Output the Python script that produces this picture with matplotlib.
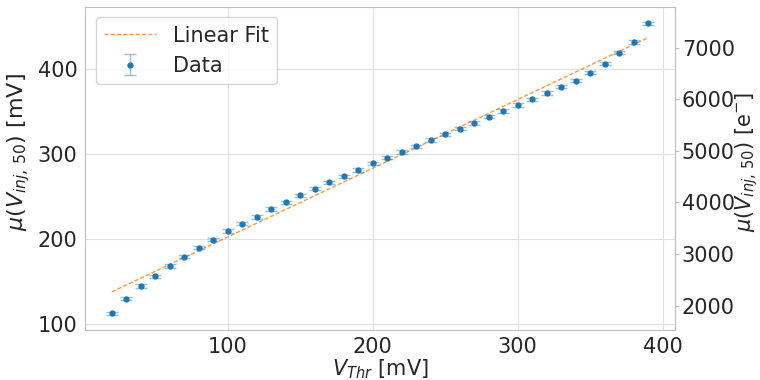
import numpy as np
import matplotlib.pyplot as plt
import seaborn as sns

sns.set_style("whitegrid")
plt.rcParams['font.family'] = ['DejaVu Sans']
plt.rcParams['font.size'] = 15
plt.rcParams['axes.labelsize'] = 15
plt.rcParams['xtick.labelsize'] = 15
plt.rcParams['ytick.labelsize'] = 15
plt.rcParams['legend.fontsize'] = 15
plt.rcParams['grid.color'] = '0.88'
plt.rcParams['grid.linewidth'] = 0.8
plt.rcParams['axes.edgecolor'] = '0.75'

# threshold voltage [mV] and mean injection voltage at 50% [mV]
v_thr = [20, 30, 40, 50, 60, 70, 80, 90, 100, 110, 120, 130, 140, 150, 160, 170,
         180, 190, 200, 210, 220, 230, 240, 250, 260, 270, 280, 290, 300, 310,
         320, 330, 340, 350, 360, 370, 380, 390]
mu_inj = [112.6, 130.2, 144.7, 156.1, 168.3, 179.6, 189.9, 199.3, 209.4, 218.1,
          226.3, 235.7, 243.5, 251.4, 259.3, 266.8, 274.1, 281.2, 289.1, 295.8,
          302.8, 309.4, 316.5, 323.5, 330.2, 336.9, 344.0, 350.6, 358.1, 364.7,
          371.8, 379.3, 386.7, 395.8, 406.4, 419.6, 432.2, 454.1]
mu_err = [2.0] * len(v_thr)

fit_slope = 0.808
fit_intercept = 121.9
e_per_mv = 16.45  # electrons per mV of injection
e_ticks = [2000, 3000, 4000, 5000, 6000, 7000]

x = np.array(v_thr)
fig, ax = plt.subplots(figsize=(7.6, 3.8), dpi=100)
fig.subplots_adjust(left=0.112, right=0.888, bottom=0.132, top=0.982)

ax.plot(x, fit_slope * x + fit_intercept, '--', color='#ff7f0e', lw=1.0,
        alpha=0.8, dashes=(3, 1.5), label='Linear Fit')
ax.errorbar(x, mu_inj, yerr=mu_err, fmt='o', color='#1f77b4', ms=3.5,
            ecolor=(0.12, 0.47, 0.71, 0.45), elinewidth=1, capsize=4, label='Data')

ax.set_xticks([100, 200, 300, 400])
ax.set_xlabel('$V_{Thr}$ [mV]', labelpad=0)
ax.set_ylabel('$\\mu(V_{inj,\\,50})$ [mV]', labelpad=4, fontsize=16)
ax.yaxis.label.set_y(0.55)
ax.tick_params(pad=2)
ax.legend(loc='upper left', handlelength=2.5)

sec = ax.secondary_yaxis('right', functions=(lambda v: v * e_per_mv, lambda q: q / e_per_mv))
sec.set_yticks(e_ticks)
sec.set_ylabel('$\\mu(V_{inj,\\,50})$ [e$^{-}$]', labelpad=-1, fontsize=15)
sec.yaxis.label.set_y(0.52)
sec.tick_params(right=True, length=3, color='0.75', pad=2)

fig.savefig('out.png')
